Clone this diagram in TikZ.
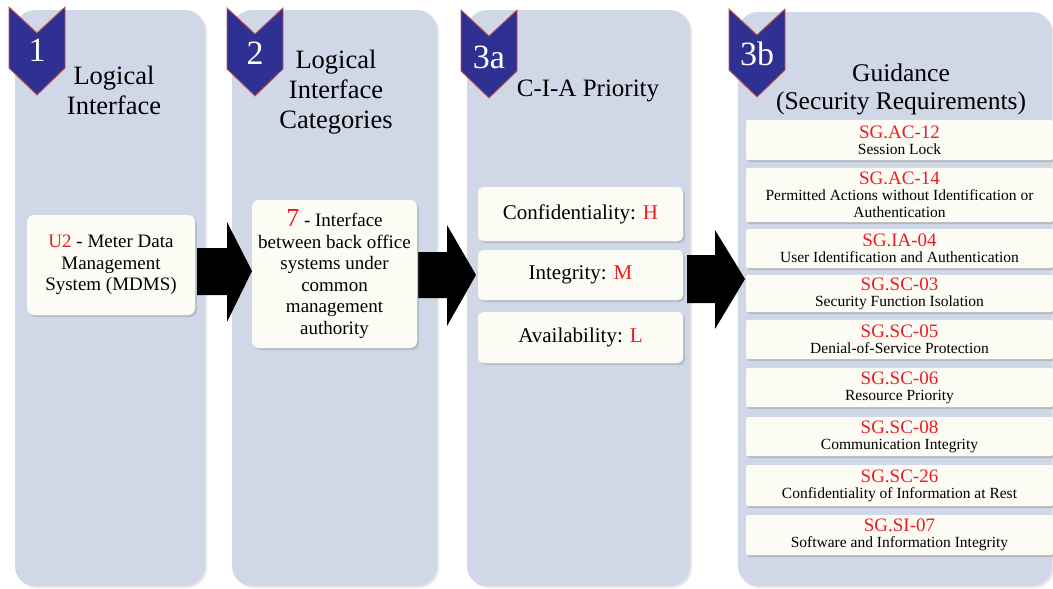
\documentclass[tikz,border=0pt]{standalone}
\usepackage{fontspec}
\setmainfont{Liberation Serif}
\usetikzlibrary{shadows}
\definecolor{panelfill}{RGB}{208,215,230}
\definecolor{cream}{RGB}{252,252,244}
\definecolor{badgeblue}{RGB}{46,49,146}
\definecolor{badgeedge}{RGB}{196,82,78}
\definecolor{codered}{RGB}{237,28,36}
\begin{document}
\begin{tikzpicture}[x=1pt,y=-1pt,
  panel/.style={rectangle, rounded corners=20pt, fill=panelfill, inner sep=0pt,
    drop shadow={opacity=0.18, shadow xshift=2pt, shadow yshift=-2pt}},
  card/.style={rectangle, rounded corners=7pt, fill=cream, inner sep=2pt, align=center,
    drop shadow={opacity=0.3, shadow xshift=2pt, shadow yshift=-2pt},
    font=\fontsize{19}{21.5}\selectfont},
  req/.style={rectangle, rounded corners=2pt, fill=cream, inner sep=1pt, align=center,
    minimum width=307pt,
    drop shadow={opacity=0.35, shadow xshift=1.5pt, shadow yshift=-2pt},
    font=\fontsize{15.5}{17}\selectfont},
  heading/.style={align=center, font=\fontsize{26.5}{30}\selectfont},
  badgenum/.style={text=white, font=\fontsize{34}{34}\selectfont, inner sep=0pt},
  blockarrow/.style={fill=black},
  badge/.pic={
    \fill[badgeblue, draw=badgeedge, line width=0.9pt, line join=miter]
      (-28,0) -- (0,26) -- (28,0) -- (28,61) -- (0,88) -- (-28,61) -- cycle;
  }
]
\useasboundingbox (0,0) rectangle (1053,589);

% column panels
\node[panel, minimum width=190pt, minimum height=576pt] (p1) at (110,298) {};
\node[panel, minimum width=205pt, minimum height=576pt] (p2) at (334.5,298) {};
\node[panel, minimum width=223pt, minimum height=576pt] (p3) at (578.5,298) {};
\node[panel, minimum width=314pt, minimum height=574pt] (p4) at (895,299) {};

% step badges
\pic at (37,7) {badge};
\pic at (255,8) {badge};
\pic at (489,10) {badge};
\pic at (757,9) {badge};
\node[badgenum] (n1) at (37,50) {1};
\node[badgenum] (n2) at (255,53) {2};
\node[badgenum] (n3a) at (489,57) {3a};
\node[badgenum] (n3b) at (757,54) {3b};

% column headings
\node[heading] (h1) at (114,90) {Logical\\Interface};
\node[heading] (h2) at (336,92) {Logical\\Interface\\Categories};
\node[heading, font=\fontsize{25}{29}\selectfont] (h3) at (588,91) {C-I-A Priority};
\node[heading, font=\fontsize{25.5}{28}\selectfont] (h4) at (901,89) {Guidance\\(Security Requirements)};

% block arrows between the columns
\fill[blockarrow] (197,248) -- (227,248) -- (227,222) -- (252,271) -- (227,322) -- (227,295) -- (197,295) -- cycle;
\fill[blockarrow] (418,252) -- (447,252) -- (447,225) -- (476,275) -- (447,326) -- (447,298) -- (418,298) -- cycle;
\fill[blockarrow] (687,255) -- (715,255) -- (715,230) -- (745,279) -- (715,329) -- (715,303) -- (687,303) -- cycle;

% logical interface
\node[card, minimum width=168pt, minimum height=100pt] (b1) at (111,265)
  {\textcolor{codered}{U2} - Meter Data\\Management\\System (MDMS)};

% interface category
\node[card, minimum width=165pt, minimum height=148pt] (b2) at (334.5,274)
  {{\fontsize{26}{21.5}\selectfont\textcolor{codered}{7}} - Interface\\between back office\\systems under\\common\\management\\authority};

% C-I-A priority
\node[card, rounded corners=5pt, minimum width=205pt, minimum height=54pt, font=\fontsize{21}{22}\selectfont] (cc) at (580.5,214)
  {Confidentiality: \textcolor{codered}{H}};
\node[card, rounded corners=5pt, minimum width=205pt, minimum height=50pt, font=\fontsize{21}{22}\selectfont] (ci) at (580.5,275)
  {Integrity: \textcolor{codered}{M}};
\node[card, rounded corners=5pt, minimum width=205pt, minimum height=51pt, font=\fontsize{21}{22}\selectfont] (ca) at (580.5,337.5)
  {Availability: \textcolor{codered}{L}};

% security requirements
\newcommand{\reqcode}[1]{{\fontsize{19}{19}\selectfont\textcolor{codered}{#1}}}
\node[req, minimum height=40pt] (r1) at (899.5,140) {\reqcode{SG.AC-12}\\[-1pt]Session Lock};
\node[req, minimum height=54pt] (r2) at (899.5,195) {\reqcode{SG.AC-14}\\[-1pt]Permitted Actions without Identification or\\Authentication};
\node[req, minimum height=39pt] (r3) at (899.5,248.5) {\reqcode{SG.IA-04}\\[-1pt]User Identification and Authentication};
\node[req, minimum height=37pt] (r4) at (899.5,293.5) {\reqcode{SG.SC-03}\\[-1pt]Security Function Isolation};
\node[req, minimum height=39pt] (r5) at (899.5,339.5) {\reqcode{SG.SC-05}\\[-1pt]Denial-of-Service Protection};
\node[req, minimum height=39pt] (r6) at (899.5,387.5) {\reqcode{SG.SC-06}\\[-1pt]Resource Priority};
\node[req, minimum height=39pt] (r7) at (899.5,436.5) {\reqcode{SG.SC-08}\\[-1pt]Communication Integrity};
\node[req, minimum height=41pt] (r8) at (899.5,485.5) {\reqcode{SG.SC-26}\\[-1pt]Confidentiality of Information at Rest};
\node[req, minimum height=40pt] (r9) at (899.5,535) {\reqcode{SG.SI-07}\\[-1pt]Software and Information Integrity};
\end{tikzpicture}
\end{document}
